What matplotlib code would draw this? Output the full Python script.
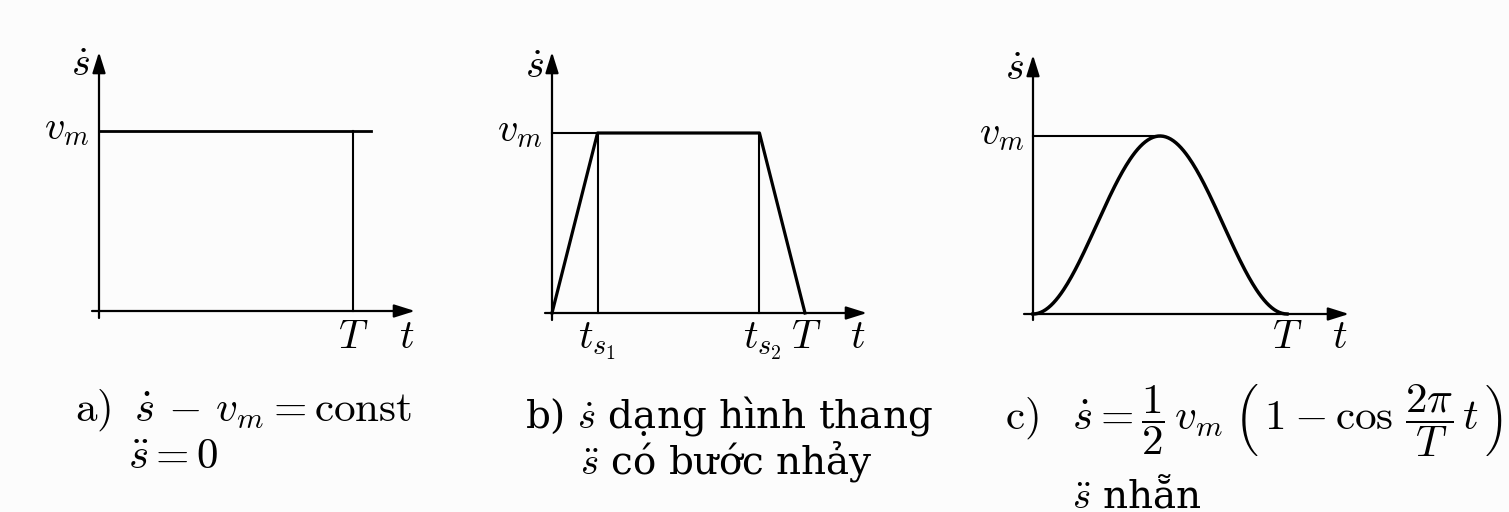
import numpy as np
import matplotlib
matplotlib.use("Agg")
import matplotlib.pyplot as plt

plt.rcParams['mathtext.fontset'] = 'cm'
plt.rcParams['font.family'] = ['DejaVu Serif']

W, H = 1509, 512

# values in units of T (time) and v_m (speed)
T = 1.0
v_m = 1.0

# a) constant speed
const_t = [0.0, 1.07]
const_v = [v_m, v_m]
const_drop_t = [T, T]
const_drop_v = [v_m, 0.0]

# b) trapezoid
t_s1 = 0.18
t_s2 = 0.82
trap_t = [0.0, t_s1, t_s2, T]
trap_v = [0.0, v_m, v_m, 0.0]

# c) smooth profile, n points along [0, T]
n_pts = 200

# pixel layout of each panel: origin, position of T, height of v_m, axis ends
layout = {
    'a': dict(x0=99, y0=311, xT=353, yv=131, xl=92, xr=415, yb=318, yt=52),
    'b': dict(x0=552, y0=313, xT=805, yv=133, xl=545, xr=867, yb=320, yt=52),
    'c': dict(x0=1033, y0=314, xT=1287, yv=136, xl=1024, xr=1349, yb=320, yt=55),
}

fig = plt.figure(figsize=(W / 100, H / 100), dpi=100)
fig.patch.set_facecolor('#fcfcfc')


def fp(x, y):
    return (x / W, 1 - y / H)


def panel(key):
    L = layout[key]
    ax = fig.add_axes([0, 0, 1, 1])
    ax.set_axis_off()
    ax.patch.set_alpha(0)
    sx = L['xT'] - L['x0']
    sy = L['y0'] - L['yv']
    ax.set_xlim(-L['x0'] / sx, (W - L['x0']) / sx)
    ax.set_ylim((L['y0'] - H) / sy, L['y0'] / sy)
    # coordinate axes with arrow heads
    arrow = dict(arrowstyle='-|>,head_length=0.7,head_width=0.22', lw=1.6,
                 color='k', shrinkA=0, shrinkB=0, mutation_scale=18)
    ax.annotate('', xy=((L['xr'] - L['x0']) / sx, 0),
                xytext=((L['xl'] - L['x0']) / sx, 0), arrowprops=arrow)
    ax.annotate('', xy=(0, (L['y0'] - L['yt']) / sy),
                xytext=(0, (L['y0'] - L['yb']) / sy), arrowprops=arrow)
    return ax


lab = dict(fontsize=29, color='k')
cap = dict(fontsize=31, color='k')
txt = dict(fontsize=28, color='k')

# ---- a)
ax = panel('a')
ax.plot(const_t, const_v, color='k', lw=2.0)
ax.plot(const_drop_t, const_drop_v, color='k', lw=1.5)
fig.text(*fp(80, 76), r'$\dot{s}$', ha='center', va='baseline', **lab)
fig.text(*fp(89, 139), r'$v_m$', ha='right', va='baseline', **lab)
fig.text(*fp(353, 348), r'$T$', ha='center', va='baseline', **lab)
fig.text(*fp(407, 348), r'$t$', ha='center', va='baseline', **lab)
fig.text(*fp(75, 421), r'$\mathrm{a)}\;\; \dot{s}\,-\,v_m = \mathrm{const}$',
         ha='left', va='baseline', **cap)
fig.text(*fp(128, 468), r'$\ddot{s} = 0$', ha='left', va='baseline', **cap)

# ---- b)
ax = panel('b')
ax.plot([0, t_s1], [v_m, v_m], color='k', lw=1.5)
ax.plot(trap_t, trap_v, color='k', lw=2.3)
ax.plot([t_s1, t_s1], [0, v_m], color='k', lw=1.5)
ax.plot([t_s2, t_s2], [0, v_m], color='k', lw=1.5)
fig.text(*fp(534, 78), r'$\dot{s}$', ha='center', va='baseline', **lab)
fig.text(*fp(542, 141), r'$v_m$', ha='right', va='baseline', **lab)
fig.text(*fp(597, 348), r'$t_{s_1}$', ha='center', va='baseline', **lab)
fig.text(*fp(762, 348), r'$t_{s_2}$', ha='center', va='baseline', **lab)
fig.text(*fp(806, 348), r'$T$', ha='center', va='baseline', **lab)
fig.text(*fp(858, 348), r'$t$', ha='center', va='baseline', **lab)
fig.text(*fp(729, 427), r'b) $\dot{s}$ dạng hình thang',
         ha='center', va='baseline', **txt)
fig.text(*fp(726, 473), r'$\ddot{s}$ có bước nhảy',
         ha='center', va='baseline', **txt)

# ---- c)
ax = panel('c')
t = np.linspace(0, T, n_pts)
v = 0.5 * v_m * (1 - np.cos(2 * np.pi / T * t))
ax.plot([0, 0.5 * T], [v_m, v_m], color='k', lw=1.5)
ax.plot(t, v, color='k', lw=2.5)
fig.text(*fp(1014, 80), r'$\dot{s}$', ha='center', va='baseline', **lab)
fig.text(*fp(1024, 144), r'$v_m$', ha='right', va='baseline', **lab)
fig.text(*fp(1287, 348), r'$T$', ha='center', va='baseline', **lab)
fig.text(*fp(1340, 348), r'$t$', ha='center', va='baseline', **lab)
fig.text(*fp(1005, 430),
         r'$\mathrm{c)}\;\;\; \dot{s} = \dfrac{1}{2}\,v_m\;'
         r'\left(\,1 - \cos\,\dfrac{2\pi}{T}\,t\,\right)$',
         ha='left', va='baseline', **cap)
fig.text(*fp(1072, 507), r'$\ddot{s}$ nhẵn', ha='left', va='baseline', **txt)

fig.savefig('out.png', dpi=100, facecolor=fig.get_facecolor())
